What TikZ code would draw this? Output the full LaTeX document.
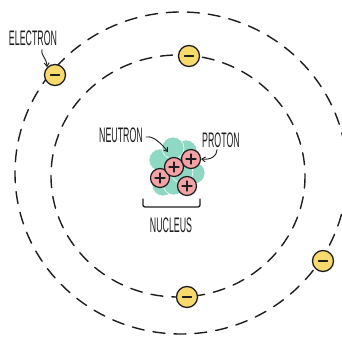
\documentclass[tikz,border=0pt]{standalone}
\usepackage{fontspec}
\usepackage{graphicx}
\setmainfont{Liberation Sans}
\usetikzlibrary{arrows.meta}

\definecolor{elecyellow}{HTML}{F8DA6C}
\definecolor{protpink}{HTML}{F2A1A4}
\definecolor{neutteal}{HTML}{8FD8C4}
\definecolor{ink}{HTML}{1E1E1E}

% narrow hand-lettered caption
\newcommand{\handlbl}[1]{\scalebox{0.42}[1]{\fontsize{21}{21}\selectfont #1}}

\tikzset{
  orbit/.style={draw=ink, line width=1.4pt, dash pattern=on 12pt off 9pt, line cap=round},
  electron/.style={circle, draw=ink, line width=1.3pt, fill=elecyellow,
    minimum size=21pt, inner sep=0pt,
    path picture={\draw[ink, line width=1.3pt, line cap=round]
      ([xshift=-4.5pt]path picture bounding box.center) --
      ([xshift=4.5pt]path picture bounding box.center);}},
  proton/.style={circle, draw=ink, line width=1.2pt, fill=protpink,
    minimum size=19pt, inner sep=0pt,
    path picture={\draw[ink, line width=1.2pt, line cap=round]
      ([xshift=-5pt]path picture bounding box.center) --
      ([xshift=5pt]path picture bounding box.center)
      ([yshift=-5pt]path picture bounding box.center) --
      ([yshift=5pt]path picture bounding box.center);}},
  neutron/.style={circle, fill=neutteal, draw=white, line width=0.6pt,
    minimum size=22pt, inner sep=0pt},
  caption/.style={text=ink, inner sep=1pt},
  pointer/.style={draw=ink, line width=0.9pt, line cap=round,
    -{Straight Barb[length=3.5pt, width=5pt]}},
}

\begin{document}
\begin{tikzpicture}[x=1pt, y=-1pt]
  \useasboundingbox[fill=white] (0,0) rectangle (342,339);

  % orbits
  \draw[orbit] (181,173) ellipse [x radius=166, y radius=161];
  \draw[orbit] (178,176) ellipse [x radius=127, y radius=121];

  % electrons
  \node[electron] (e1) at (55,75) {};
  \node[electron] (e2) at (189,56) {};
  \node[electron] (e3) at (187,297) {};
  \node[electron] (e4) at (323,261) {};

  % nucleus: neutrons underneath
  \node[neutron] (n6) at (163,185) {};
  \node[neutron] (n5) at (174,184) {};
  \node[neutron] (n4) at (194,173) {};
  \node[neutron] (n7) at (182,172) {};
  \node[neutron] (n1) at (160,160) {};
  \node[neutron] (n3) at (186,151) {};
  \node[neutron] (n2) at (173,148) {};
  % protons on top
  \node[proton] (p1) at (160,178) {};
  \node[proton] (p2) at (174,167) {};
  \node[proton] (p3) at (191,159) {};
  \node[proton] (p4) at (187,186) {};

  % captions
  \node[caption] (lelec) at (33,38) {\handlbl{ELECTRON}};
  \node[caption] (lneut) at (121,135) {\handlbl{NEUTRON}};
  \node[caption] (lprot) at (221,140) {\handlbl{PROTON}};
  \node[caption] (lnucl) at (171,225) {\handlbl{NUCLEUS}};

  % pointers
  \draw[pointer] (lelec.south) ++(9,3) coordinate (ea)
    .. controls (41,57) and (46,56) .. (e1.north west);
  \draw[pointer] (lneut.east) ++(2,2) coordinate (na)
    .. controls (150,136) and (157,138) .. (n1.north east);
  \draw[pointer] (lprot.south) ++(-4,1) coordinate (pa)
    .. controls (217,156) and (211,160) .. (p3.east);

  % bracket under the nucleus
  \coordinate (bl) at (143,199);
  \coordinate (br) at (200,199);
  \draw[ink, line width=1.3pt, line cap=round, rounded corners=2pt]
    (bl) -- ++(0,8) -| (br);
\end{tikzpicture}
\end{document}
